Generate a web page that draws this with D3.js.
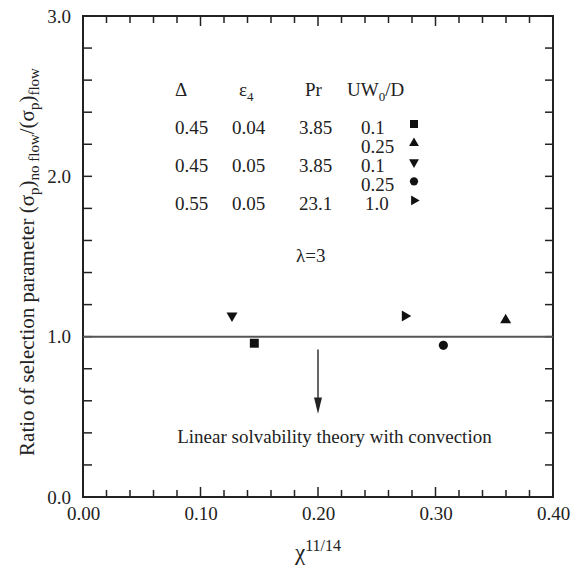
<!DOCTYPE html>
<html>
<head>
<meta charset="utf-8">
<script src="https://cdn.jsdelivr.net/npm/d3@7"></script>
<style>
  body { margin: 0; background: #fff; }
  svg text { font-family: "Liberation Serif", "DejaVu Serif", serif; fill: #222; }
</style>
</head>
<body>
<div id="chart"></div>
<script>
// measured points, one per case
const pointX = [0.1458, 0.3597, 0.1268, 0.3067, 0.274];
const pointY = [0.959, 1.104, 1.131, 0.946, 1.129];
const pointShape = ['square', 'up', 'down', 'circle', 'right'];

// legend table
const deltaCol = ['0.45', '', '0.45', '', '0.55'];
const epsCol = ['0.04', '', '0.05', '', '0.05'];
const prCol = ['3.85', '', '3.85', '', '23.1'];
const uwCol = ['0.1', '0.25', '0.1', '0.25', '1.0'];

const xTicks = [0, 0.1, 0.2, 0.3, 0.4];
const yTicks = [0, 1, 2, 3];

const width = 580, height = 567;
const margin = { left: 83, right: 27, top: 16, bottom: 70 };

const svg = d3.select('#chart').append('svg')
    .attr('width', width)
    .attr('height', height);

const x = d3.scaleLinear().domain([0, 0.4]).range([margin.left, width - margin.right]);
const y = d3.scaleLinear().domain([0, 3]).range([height - margin.bottom, margin.top]);

const minorX = d3.range(0, 0.4001, 0.02);
const minorY = d3.range(0, 3.0001, 0.2);
const isMajorX = v => Math.abs(v * 10 - Math.round(v * 10)) < 1e-6;

// frame
svg.append('rect')
    .attr('x', x(0)).attr('y', y(3))
    .attr('width', x(0.4) - x(0)).attr('height', y(0) - y(3))
    .attr('fill', 'none').attr('stroke', '#222').attr('stroke-width', 2);

// inward ticks on all four sides
const ticks = svg.append('g').attr('stroke', '#222').attr('stroke-width', 1.5);
minorX.forEach(v => {
    const len = isMajorX(v) ? 10 : 7;
    ticks.append('line').attr('x1', x(v)).attr('x2', x(v)).attr('y1', y(0)).attr('y2', y(0) - len);
    ticks.append('line').attr('x1', x(v)).attr('x2', x(v)).attr('y1', y(3)).attr('y2', y(3) + len);
});
minorY.forEach(v => {
    ticks.append('line').attr('x1', x(0)).attr('x2', x(0) + 9).attr('y1', y(v)).attr('y2', y(v));
    ticks.append('line').attr('x1', x(0.4)).attr('x2', x(0.4) - 8).attr('y1', y(v)).attr('y2', y(v));
});

// tick labels via axes
const xAxis = svg.append('g')
    .attr('transform', `translate(0,${y(0)})`)
    .call(d3.axisBottom(x).tickValues(xTicks).tickSize(0).tickPadding(10).tickFormat(d3.format('.2f')));
const yAxis = svg.append('g')
    .attr('transform', `translate(${x(0)},0)`)
    .call(d3.axisLeft(y).tickValues(yTicks).tickSize(0).tickPadding(12).tickFormat(d3.format('.1f')));
[xAxis, yAxis].forEach(a => {
    a.select('.domain').remove();
    a.selectAll('text')
        .style('font-family', '"Liberation Serif", serif')
        .style('font-size', '19px')
        .attr('fill', '#222');
});

// reference line at 1.0
svg.append('line')
    .attr('x1', x(0)).attr('x2', x(0.4))
    .attr('y1', y(1)).attr('y2', y(1))
    .attr('stroke', '#555').attr('stroke-width', 2);

// arrow
svg.append('line')
    .attr('x1', x(0.2)).attr('x2', x(0.2))
    .attr('y1', y(0.92)).attr('y2', y(0.6))
    .attr('stroke', '#333').attr('stroke-width', 1.5);
svg.append('path')
    .attr('d', `M${x(0.2) - 4},${y(0.62)} L${x(0.2) + 4},${y(0.62)} L${x(0.2)},${y(0.52)} Z`)
    .attr('fill', '#222');

svg.append('text')
    .attr('x', x(0.214)).attr('y', y(0.337))
    .attr('text-anchor', 'middle')
    .style('font-size', '19px')
    .text('Linear solvability theory with convection');

// markers
const symbolFor = s => {
    if (s === 'square') return d3.symbol(d3.symbolSquare, 80)();
    if (s === 'circle') return d3.symbol(d3.symbolCircle, 66)();
    return d3.symbol(d3.symbolTriangle, 52)();
};
const rotFor = s => s === 'down' ? 180 : s === 'right' ? 90 : 0;

svg.append('g').selectAll('path')
    .data(pointX.map((v, i) => ({ x: v, y: pointY[i], s: pointShape[i] })))
    .join('path')
    .attr('d', d => symbolFor(d.s))
    .attr('transform', d => `translate(${x(d.x)},${y(d.y)}) rotate(${rotFor(d.s)})`)
    .attr('fill', '#111');

// legend
const lg = svg.append('g').style('font-size', '19px');
lg.append('text').attr('x', 175).attr('y', 96).text('Δ');
const eps = lg.append('text').attr('x', 239).attr('y', 96);
eps.append('tspan').text('ε');
eps.append('tspan').attr('dy', 5).style('font-size', '13px').text('4');
lg.append('text').attr('x', 305).attr('y', 96).text('Pr');
const uw = lg.append('text').attr('x', 347).attr('y', 96);
uw.append('tspan').text('UW');
uw.append('tspan').attr('dy', 5).style('font-size', '13px').text('0');
uw.append('tspan').attr('dy', -5).text('/D');

const rowY = i => 134 + i * 19.1;
const cols = [[deltaCol, 175], [epsCol, 232], [prCol, 299]];
cols.forEach(([col, cx]) => {
    col.forEach((t, i) => {
        if (t) lg.append('text').attr('x', cx).attr('y', rowY(i)).text(t);
    });
});
uwCol.forEach((t, i) => {
    lg.append('text').attr('x', t === '1.0' ? 365 : 361).attr('y', rowY(i)).text(t);
});
pointShape.forEach((s, i) => {
    lg.append('path')
        .attr('d', symbolFor(s))
        .attr('transform', `translate(414,${rowY(i) - 10}) rotate(${rotFor(s)}) scale(0.9)`)
        .attr('fill', '#111');
});

svg.append('text')
    .attr('x', 296).attr('y', 262)
    .style('font-size', '19px')
    .text('λ=3');

// axis titles
const xt = svg.append('text')
    .attr('x', x(0.2)).attr('y', 560)
    .attr('text-anchor', 'middle');
xt.append('tspan').style('font-size', '23px').text('χ');
xt.append('tspan').attr('dy', -9).style('font-size', '16px').text('11/14');

const yt = svg.append('text')
    .attr('transform', `translate(34,262) rotate(-90)`)
    .attr('text-anchor', 'middle')
    .style('font-size', '21px');
yt.append('tspan').text('Ratio of selection parameter (σ');
yt.append('tspan').attr('dy', 5).style('font-size', '15px').text('p');
yt.append('tspan').attr('dy', -5).text(')');
yt.append('tspan').attr('dy', 5).style('font-size', '15px').text('no flow');
yt.append('tspan').attr('dy', -5).text('/(σ');
yt.append('tspan').attr('dy', 5).style('font-size', '15px').text('p');
yt.append('tspan').attr('dy', -5).text(')');
yt.append('tspan').attr('dy', 5).style('font-size', '15px').text('flow');
</script>
</body>
</html>
